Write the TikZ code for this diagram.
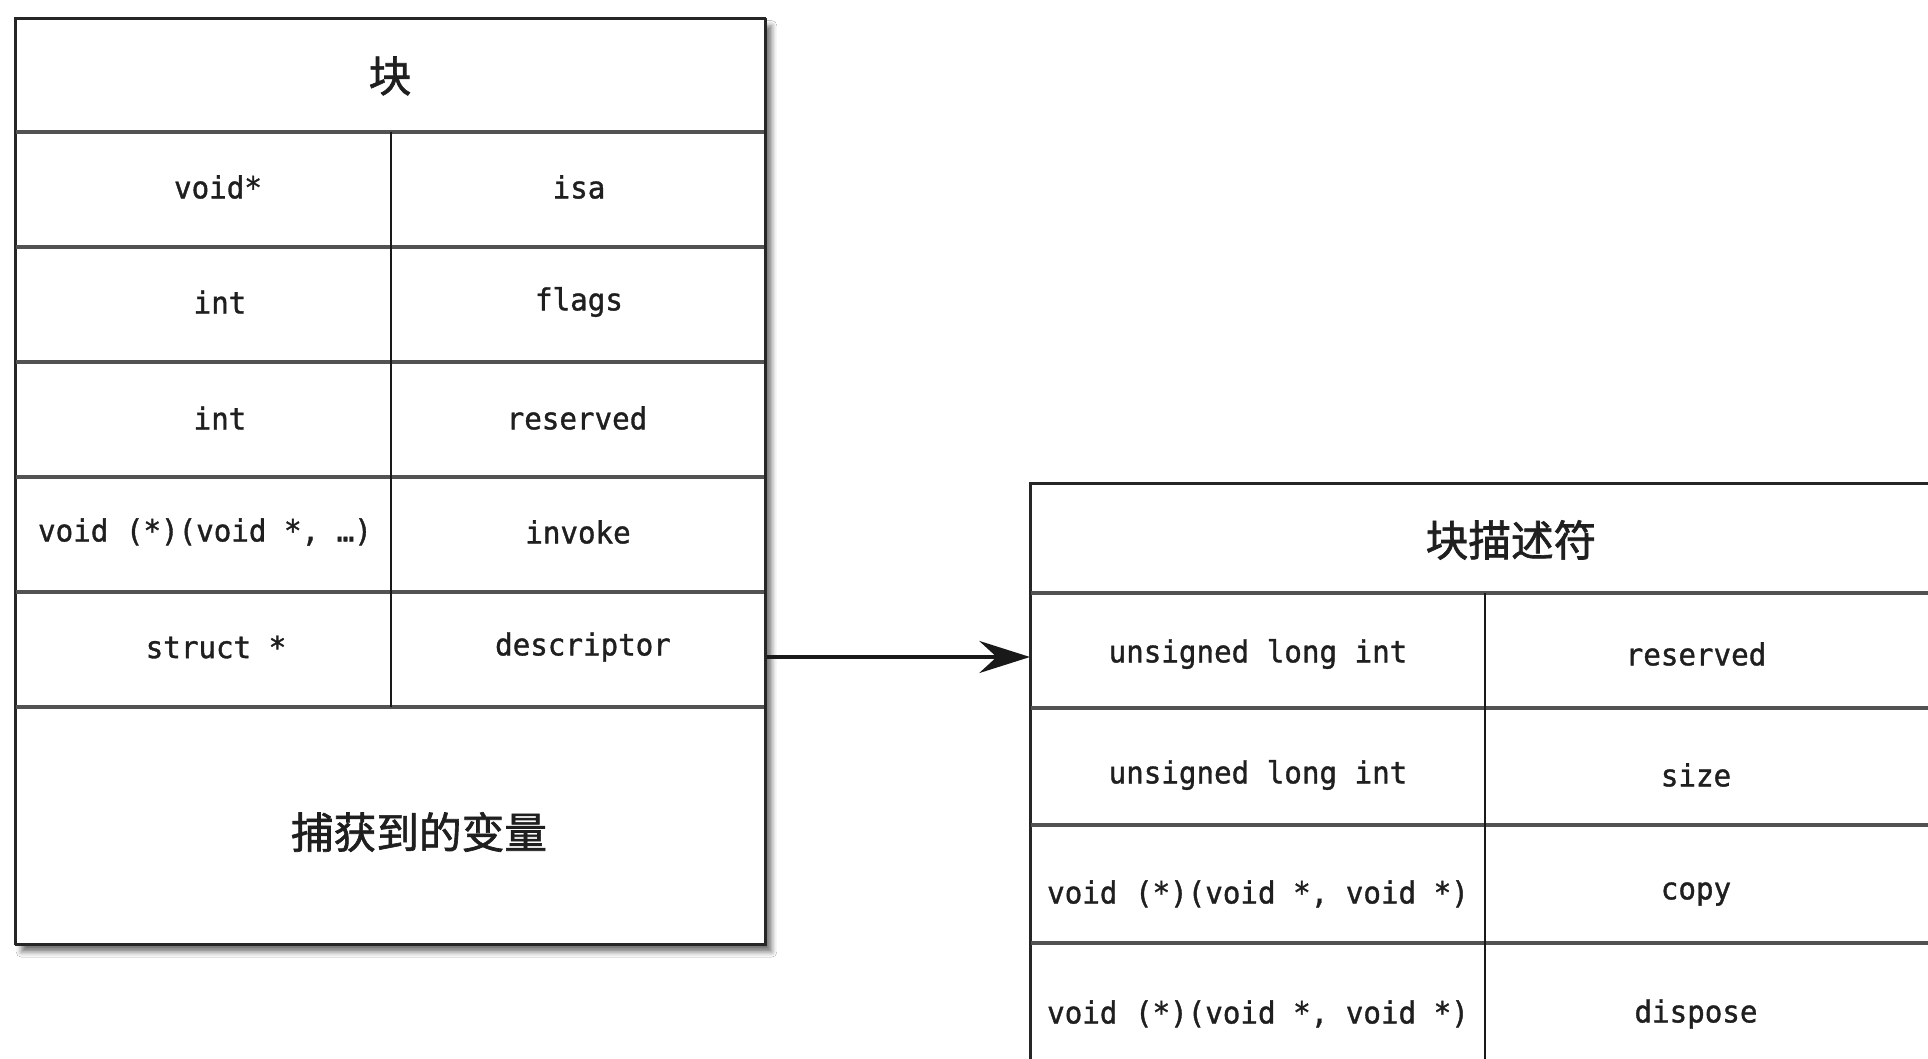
\documentclass[tikz,border=0pt]{standalone}
\usepackage{fontspec}
\newfontfamily\codefont[FakeBold=1.2,FakeStretch=0.96]{DejaVu Sans Mono}
\newfontfamily\cjkfont[FakeBold=1.5]{Noto Sans CJK SC}
\usetikzlibrary{arrows.meta,shadows.blur}

\begin{document}
\begin{tikzpicture}[x=0.75pt,y=-0.75pt,
  frame/.style={draw=black!85,line width=1.8pt,fill=white,inner sep=0pt,anchor=north west,
    blur shadow={shadow xshift=4pt,shadow yshift=-5pt,shadow blur radius=4pt,shadow opacity=55}},
  rowline/.style={draw=black!68,line width=2.4pt},
  colline/.style={draw=black!90,line width=1.4pt},
  code/.style={font=\codefont\fontsize{22.8pt}{26pt}\selectfont,text=black!88,inner sep=0pt},
  title/.style={font=\cjkfont\fontsize{32pt}{36pt}\selectfont,text=black!88,inner sep=0pt},
  conn/.style={-{Stealth[length=38pt,width=24pt,inset=13pt]},line width=3pt,draw=black!90}
]
\useasboundingbox (0,0) rectangle (1928,1059);
\fill[white] (0,0) rectangle (1928,1059);
\clip (0,0) rectangle (1928,1059);

% block layout
\node[frame,minimum width=562.5pt,minimum height=694.5pt] (blk) at (15,18) {};
\foreach \yy in {132,247,362,477,592,707}
  \draw[rowline] (15,\yy) -- (765,\yy);
\draw[colline] (391,132) -- (391,707);
\draw[draw=black!85,line width=1.8pt] (15,18) rectangle (765,944);

\node[title] (blkT) at (390,76) {块};
\node[code] (t1) at (218,187) {void*};
\node[code] (t2) at (220,302) {int};
\node[code] (t3) at (220,418) {int};
\node[code] (t4) at (205,532) {void (*)(void *, …)};
\node[code] (t5) at (216,647) {struct *};
\node[code] (f1) at (579,187) {isa};
\node[code] (f2) at (579,302) {flags};
\node[code] (f3) at (577,418) {reserved};
\node[code] (f4) at (578,532) {invoke};
\node[code] (f5) at (583,647) {descriptor};
\node[title] (capT) at (419,832) {捕获到的变量};

% descriptor layout
\node[frame,minimum width=697.5pt,minimum height=447.75pt] (dsc) at (1030,483) {};
\foreach \yy in {593,708,825,943}
  \draw[rowline] (1030,\yy) -- (1960,\yy);
\draw[colline] (1485,593) -- (1485,1080);
\draw[draw=black!85,line width=1.8pt] (1030,1080) -- (1030,483) -- (1960,483);

\node[title] (dscT) at (1511,540) {块描述符};
\node[code] (d1) at (1258,654) {unsigned long int};
\node[code] (d2) at (1258,775) {unsigned long int};
\node[code] (d3) at (1258,894) {void (*)(void *, void *)};
\node[code] (d4) at (1258,1014) {void (*)(void *, void *)};
\node[code] (g1) at (1696,654) {reserved};
\node[code] (g2) at (1696,775) {size};
\node[code] (g3) at (1696,894) {copy};
\node[code] (g4) at (1696,1014) {dispose};

% pointer from the descriptor field to the descriptor
\coordinate (ay) at (0,657);
\draw[conn] (blk.east |- ay) -- (dsc.west |- ay);
\end{tikzpicture}
\end{document}
